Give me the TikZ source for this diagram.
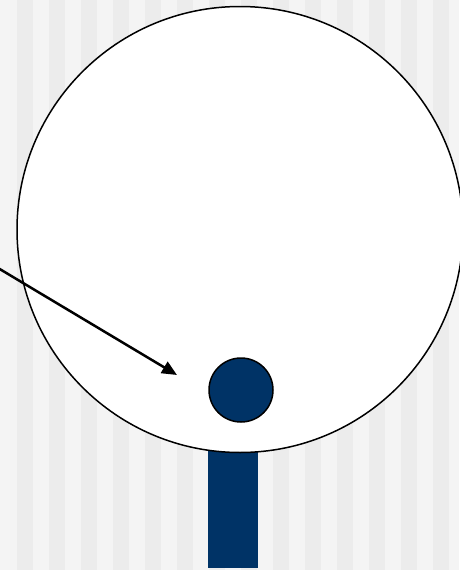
\documentclass[tikz,border=0pt]{standalone}
\usetikzlibrary{arrows.meta}
\definecolor{stripeA}{HTML}{F4F4F4}
\definecolor{stripeB}{HTML}{ECECEC}
\definecolor{navy}{HTML}{003366}
\tikzset{
  bigcircle/.style={circle, draw=black, line width=1.5pt, fill=white, minimum size=446pt, inner sep=0pt},
  smallcircle/.style={circle, draw=black, line width=1.5pt, fill=navy, minimum size=64pt, inner sep=0pt},
  stem/.style={fill=navy},
  pointer/.style={line width=2.5pt, -{Triangle[length=15pt, width=13pt]}}
}
\begin{document}
\begin{tikzpicture}[x=1pt, y=-1pt]
\useasboundingbox (0,0) rectangle (459,570);
\fill[stripeA] (0,0) rectangle (459,570);
\foreach \i in {1,3,...,29} {
  \fill[stripeB] ({16*\i+1},0) rectangle ({16*\i+17},570);
}
\fill[stem] (208,420) rectangle (258,568);
\node[bigcircle] (big) at (240,229.5) {};
\node[smallcircle] (small) at (241,390) {};
\coordinate (start) at (-2,268);
\coordinate (tip) at (177,375);
\draw[pointer] (start) -- (tip);
\end{tikzpicture}
\end{document}
